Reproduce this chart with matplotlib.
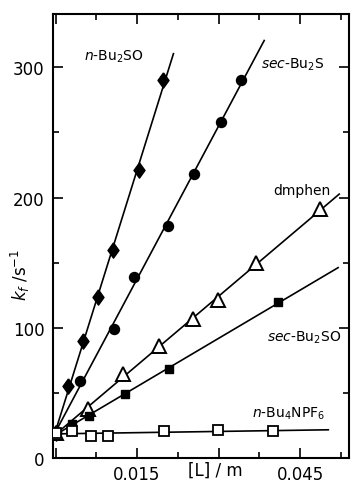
import numpy as np
import matplotlib
matplotlib.use("Agg")
import matplotlib.pyplot as plt
from matplotlib.ticker import FixedLocator

plt.rcParams['font.family'] = ['DejaVu Sans']
plt.rcParams['mathtext.fontset'] = 'custom'
plt.rcParams['mathtext.rm'] = 'DejaVu Sans'
plt.rcParams['mathtext.it'] = 'DejaVu Sans:italic'

# ---- data ----
nBu2SO_x = [0.0, 0.0023, 0.0051, 0.0078, 0.0106, 0.0154, 0.0198]
nBu2SO_y = [19, 55, 90, 124, 160, 221, 290]

secBu2S_x = [0.0, 0.0045, 0.0108, 0.0144, 0.0207, 0.0255, 0.0305, 0.0341]
secBu2S_y = [19, 59, 99, 139, 178, 218, 258, 290]

dmphen_x = [0.0, 0.0060, 0.0124, 0.0191, 0.0253, 0.0299, 0.0369, 0.0487]
dmphen_y = [19, 37.5, 64.5, 86, 106.5, 121, 150, 191]

secBu2SO_x = [0.0, 0.0030, 0.0062, 0.0128, 0.0209, 0.0410]
secBu2SO_y = [19, 26, 32, 49, 68, 120]

nBu4NPF6_x = [0.0, 0.0030, 0.0065, 0.0097, 0.0200, 0.0299, 0.0400]
nBu4NPF6_y = [19, 21, 17, 17, 20.5, 21.5, 20.5]

# extent of each fitted line (data x)
fit_x_end = [0.0217, 0.0384, 0.0522, 0.0520, 0.0502]

series_labels = [r'$\mathit{n}$-Bu$_2$SO', r'$\mathit{sec}$-Bu$_2$S', 'dmphen',
                 r'$\mathit{sec}$-Bu$_2$SO', r'$\mathit{n}$-Bu$_4$NPF$_6$']
label_x = [0.0108, 0.0436, 0.0454, 0.0458, 0.0428]
label_y = [309, 303, 206, 93, 35]

x_major = [0.0, 0.015, 0.030, 0.045]
x_major_labels = ['', '0.015', '', '0.045']
x_minor = [0.0075, 0.0225, 0.0375, 0.0525]
y_major = [0, 100, 200, 300]
y_minor = [50, 150, 250]

# ---- figure ----
fig = plt.figure(figsize=(3.54, 4.89), dpi=100)
ax = fig.add_axes([53/354, 30/489, 296/354, 444/489])

diamond = [(0, 1), (0.72, 0), (0, -1), (-0.72, 0), (0, 1)]

xs_all = [nBu2SO_x, secBu2S_x, dmphen_x, secBu2SO_x, nBu4NPF6_x]
ys_all = [nBu2SO_y, secBu2S_y, dmphen_y, secBu2SO_y, nBu4NPF6_y]
styles = [
    dict(marker=diamond, ms=11.0, mfc='black', mec='black'),
    dict(marker='o', ms=7.2, mfc='black', mec='black'),
    dict(marker='^', ms=9.5, mfc='white', mec='black', mew=1.4),
    dict(marker='s', ms=5.8, mfc='black', mec='black'),
    dict(marker='s', ms=7.2, mfc='white', mec='black', mew=1.3),
]

for xs, ys, xe in zip(xs_all, ys_all, fit_x_end):
    k, b = np.polyfit(xs, ys, 1)
    xl = np.array([0.0, xe])
    ax.plot(xl, k * xl + b, color='black', lw=1.2, zorder=2)
for xs, ys, st in zip(xs_all, ys_all, styles):
    ax.plot(xs, ys, ls='none', zorder=3, **st)

for t, lx, ly in zip(series_labels, label_x, label_y):
    ax.text(lx, ly, t, ha='center', va='center', fontsize=10)

ax.set_xlim(-0.00046, 0.054)
ax.set_ylim(0, 341)

ax.xaxis.set_major_locator(FixedLocator(x_major))
ax.set_xticklabels(x_major_labels)
ax.xaxis.set_minor_locator(FixedLocator(x_minor))
ax.yaxis.set_major_locator(FixedLocator(y_major))
ax.yaxis.set_minor_locator(FixedLocator(y_minor))

ax.tick_params(which='both', direction='in', top=True, right=True, width=1.2)
ax.tick_params(which='major', length=7, labelsize=12)
ax.tick_params(which='minor', length=4.5)
ax.tick_params(axis='y', which='major', pad=6)
ax.tick_params(axis='x', which='major', pad=5)
for sp in ax.spines.values():
    sp.set_linewidth(1.5)

ax.set_xlabel('[L] / m', fontsize=12)
ax.xaxis.label.set_va('center')
ax.xaxis.set_label_coords(0.55, -0.027)
ax.set_ylabel(r'$k_\mathit{f}$ /s$^{-1}$', fontsize=12)
ax.yaxis.label.set_va('center')
ax.yaxis.set_label_coords(-0.111, 0.414)

fig.savefig('out.png', dpi=100)
